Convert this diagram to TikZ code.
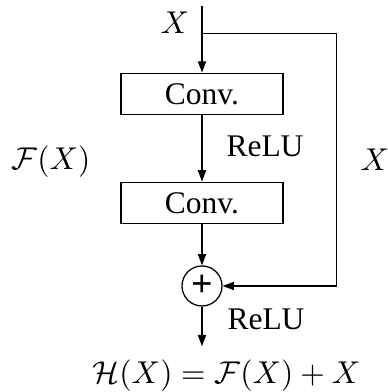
\documentclass[tikz,border=0pt]{standalone}
\usepackage[no-math]{fontspec}
\setmainfont{Liberation Serif}
\usepackage{amsmath,amssymb}
\usepackage{tikz}
\usetikzlibrary{arrows.meta,positioning,calc}

\begin{document}
\begin{tikzpicture}[
    x=0.3175pt, y=0.3175pt,
    >={Triangle[length=3.6pt,width=2.6pt]},
    conv/.style={draw, minimum width=51.4pt, minimum height=13.2pt,
                 inner sep=0pt},
    sum/.style={draw, circle, minimum size=12.7pt, inner sep=0pt,
                font=\fontsize{12}{12}\selectfont\bfseries},
    lbl/.style={inner sep=0pt},
  ]
  \useasboundingbox (0,0) rectangle (387,-392);

  \node[conv] (c1) at (202,-94) {Conv.};
  \node[conv, below=21pt of c1] (c2) {Conv.};
  \node[sum, below=13pt of c2] (add) {+};
  \coordinate[above=21pt of c1.north] (in);
  \coordinate[above=12.4pt of c1.north] (split);
  \coordinate[below=12.6pt of add.south] (out);

  \draw[->] (in) -- (c1);
  \draw[->] (c1) -- (c2);
  \draw[->] (c2) -- (add);
  \draw[->] (add) -- (out);
  \draw[->] (split) -- ++(42.6pt,0) |- (add);

  \node[lbl] (xin) at (175,-23) {$X$};
  \node[lbl] (relu1) at (265,-146) {ReLU};
  \node[lbl] (relu2) at (266,-319) {ReLU};
  \node[lbl] (fx) at (51,-162) {$\mathcal{F}(X)$};
  \node[lbl] (xskip) at (375,-160) {$X$};
  \node[lbl] (hx) at (226.5,-376) {$\mathcal{H}(X) = \mathcal{F}(X) + X$};

\end{tikzpicture}
\end{document}
